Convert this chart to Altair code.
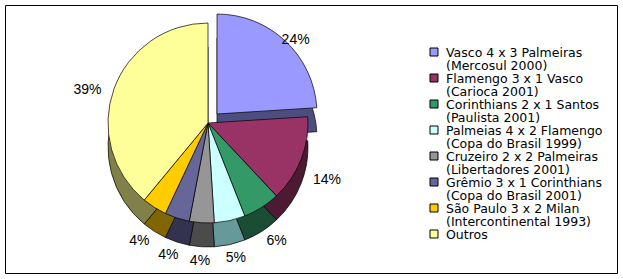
import altair as alt
import pandas as pd

labels = [
    "Vasco 4 x 3 Palmeiras|(Mercosul 2000)",
    "Flamengo 3 x 1 Vasco|(Carioca 2001)",
    "Corinthians 2 x 1 Santos|(Paulista 2001)",
    "Palmeias 4 x 2 Flamengo|(Copa do Brasil 1999)",
    "Cruzeiro 2 x 2 Palmeiras|(Libertadores 2001)",
    "Grêmio 3 x 1 Corinthians|(Copa do Brasil 2001)",
    "São Paulo 3 x 2 Milan|(Intercontinental 1993)",
    "Outros",
]
values = [24, 14, 6, 5, 4, 4, 4, 39]
colors = ["#9999FF", "#993366", "#339966", "#CCFFFF", "#969696", "#666699", "#FFCC00", "#FFFF99"]
side_colors = ["#4D4D80", "#4D1A33", "#1A4D33", "#669999", "#4B4B4B", "#333350", "#806600", "#808048"]

df = pd.DataFrame({
    "jogo": labels,
    "valor": values,
    "ordem": list(range(len(labels))),
    "pct": [f"{v}%" for v in values],
})

cx, cy = 203, 118
R = 100
DEPTH = 24
EX, EY = 9, -9

theta = alt.Theta("valor:Q", stack=True)
order = alt.Order("ordem:Q")

top_color = alt.Color("jogo:N", scale=alt.Scale(domain=labels, range=colors), legend=None)
side_color = alt.Color("jogo:N", scale=alt.Scale(domain=labels, range=side_colors), legend=None)

pos = dict(x=alt.value(cx), y=alt.value(cy))
is_vasco = alt.datum.ordem == 0

side_rest = alt.Chart(df).mark_arc(outerRadius=R, stroke="black", strokeWidth=0.7, yOffset=DEPTH).encode(
    theta=theta, order=order, color=side_color,
    opacity=alt.condition(is_vasco, alt.value(0), alt.value(1)), **pos)
side_ex = alt.Chart(df).mark_arc(outerRadius=R, stroke="black", strokeWidth=0.7, xOffset=EX, yOffset=EY + DEPTH).encode(
    theta=theta, order=order, color=side_color,
    opacity=alt.condition(is_vasco, alt.value(1), alt.value(0)), **pos)
top_rest = alt.Chart(df).mark_arc(outerRadius=R, stroke="black", strokeWidth=0.7).encode(
    theta=theta, order=order, color=top_color,
    opacity=alt.condition(is_vasco, alt.value(0), alt.value(1)), **pos)
top_ex = alt.Chart(df).mark_arc(outerRadius=R, stroke="black", strokeWidth=0.7, xOffset=EX, yOffset=EY).encode(
    theta=theta, order=order, color=top_color,
    opacity=alt.condition(is_vasco, alt.value(1), alt.value(0)), **pos)
text = alt.Chart(df).mark_text(
    radius=128, font="Liberation Sans", fontSize=14, color="black", yOffset=10
).encode(theta=theta, order=order, text="pct:N", **pos)

# legend built from marks
leg_y = alt.Y("ordem:Q", scale=alt.Scale(domain=[0, 7], range=[47, 229]), axis=None)
leg_sym = alt.Chart(df).mark_square(size=64, stroke="black", strokeWidth=1, opacity=1).encode(
    x=alt.value(429), y=leg_y, color=top_color)
leg_txt = alt.Chart(df).mark_text(
    align="left", baseline="alphabetic", dy=4.5, lineBreak="|", lineHeight=13,
    font="DejaVu Sans", fontSize=12.5, color="black",
).encode(x=alt.value(441), y=leg_y, text="jogo:N")

chart = alt.layer(side_rest, side_ex, top_rest, top_ex, text, leg_sym, leg_txt).resolve_scale(
    color="independent"
).properties(
    width=612, height=268,
    padding={"left": 5, "top": 5, "right": 6, "bottom": 6},
    autosize=alt.AutoSizeParams(type="none"),
    background="white",
).configure_view(stroke="black", strokeWidth=1)

chart.save("out.html", embed_options={"renderer": "svg", "actions": False})
